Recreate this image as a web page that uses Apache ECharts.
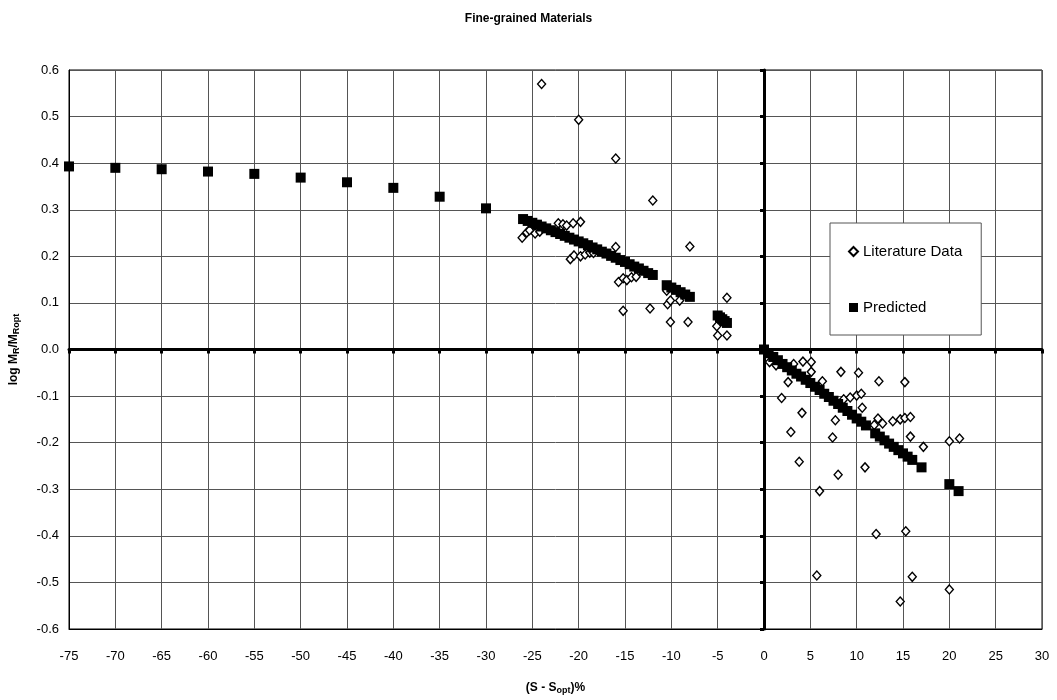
<!DOCTYPE html>
<html>
<head>
<meta charset="utf-8">
<script src="https://cdn.jsdelivr.net/npm/echarts@6/dist/echarts.min.js"></script>
<style>html,body{margin:0;padding:0;background:#fff;}#c{width:1057px;height:700px;}</style>
</head>
<body>
<div id="c"></div>
<script>
var litX = [-24,-20,-16,-12,-8,
  -26.1,-25.6,-25.3,-24.7,-24.2,
  -22.2,-21.7,-21.3,-20.6,-19.8,
  -20.9,-20.5,-19.8,-19.3,-18.8,-18.4,
  -16,
  -15.7,-15.2,-14.8,-14.3,-13.8,
  -15.2,-12.3,
  -10.5,-10.4,-10.1,-9.1,
  -10.1,-8.2,-4.0,-5.1,-5.0,-4.0,
  0.6,1.3,3.2,4.2,5.1,5.1,2.6,1.9,6.3,8.3,10.2,12.4,15.2,
  4.1,2.9,3.8,7.7,7.4,8.0,6.0,10.9,10.6,8.6,9.3,10.0,10.5,
  12.3,11.9,12.8,13.9,14.7,15.2,15.8,15.8,17.2,20.0,21.1,
  12.1,15.3,5.7,16.0,14.7,20.0];
var litY = [0.570,0.493,0.410,0.320,0.221,
  0.240,0.251,0.256,0.249,0.253,
  0.271,0.269,0.266,0.271,0.274,
  0.194,0.202,0.200,0.204,0.208,0.207,
  0.220,
  0.145,0.153,0.149,0.155,0.156,
  0.083,0.088,
  0.126,0.097,0.105,0.105,
  0.059,0.059,0.111,0.050,0.030,0.030,
  -0.027,-0.034,-0.031,-0.026,-0.027,-0.048,-0.070,-0.104,-0.068,-0.048,-0.050,-0.068,-0.070,
  -0.136,-0.177,-0.241,-0.152,-0.189,-0.269,-0.304,-0.253,-0.125,-0.107,-0.103,-0.099,-0.095,
  -0.148,-0.162,-0.159,-0.154,-0.150,-0.147,-0.145,-0.187,-0.209,-0.197,-0.191,
  -0.396,-0.390,-0.485,-0.488,-0.541,-0.515];

var predX = [-75,-70,-65,-60,-55,-50,-45,-40,-35,-30,
  -26,-25.5,-25,-24.5,-24,-23.5,-23,-22.5,-22,-21.5,-21,-20.5,-20,-19.5,-19,-18.5,-18,-17.5,-17,-16.5,-16,-15.5,-15,-14.5,-14,-13.5,-13,-12.5,-12,
  -10.5,-10,-9.5,-9,-8.5,-8,
  -5,-4.75,-4.5,-4.25,-4,
  0,0.5,1,1.5,2,2.5,3,3.5,4,4.5,5,5.5,6,6.5,7,7.5,8,8.5,9,9.5,10,10.5,11,
  12,12.5,13,13.5,14,14.5,15,15.5,16,17,20,21];
var predY = [0.393,0.390,0.387,0.382,0.377,0.369,0.359,0.347,0.328,0.303,
  0.280,0.276,0.272,0.268,0.264,0.260,0.256,0.252,0.248,0.244,0.240,0.236,0.232,0.228,0.224,0.219,0.215,0.210,0.206,0.201,0.197,0.192,0.188,0.183,0.178,0.174,0.169,0.164,0.160,
  0.138,0.133,0.128,0.123,0.118,0.113,
  0.073,0.069,0.065,0.061,0.057,
  0.000,-0.008,-0.016,-0.023,-0.031,-0.038,-0.045,-0.052,-0.058,-0.065,-0.072,-0.080,-0.087,-0.095,-0.102,-0.110,-0.117,-0.125,-0.132,-0.140,-0.148,-0.155,-0.163,
  -0.180,-0.187,-0.195,-0.202,-0.209,-0.216,-0.223,-0.230,-0.237,-0.253,-0.289,-0.304];

var titleText = 'Fine-grained Materials';
var litName = 'Literature Data';
var predName = 'Predicted';

function zip(a, b) { return a.map(function (v, i) { return [v, b[i]]; }); }

var FONT = '"Liberation Sans", Arial, sans-serif';
var chart = echarts.init(document.getElementById('c'), null, {renderer: 'canvas'});
var xCommon = {type: 'value', min: -75, max: 30, interval: 5};
var yCommon = {type: 'value', min: -0.6, max: 0.6, interval: 0.1};
chart.setOption({
  backgroundColor: '#ffffff',
  animation: false,
  title: {
    text: titleText, left: 'center', top: 8,
    textStyle: {fontFamily: FONT, fontSize: 12, fontWeight: 'bold', color: '#000'}
  },
  legend: {
    left: 830, top: 223, orient: 'vertical',
    padding: [21, 19, 20, 18], itemGap: 41,
    itemWidth: 9, itemHeight: 9,
    borderColor: '#555', borderWidth: 1, backgroundColor: '#fff',
    textStyle: {fontFamily: FONT, fontSize: 15, color: '#000'},
    data: [litName, predName]
  },
  grid: {left: 68, right: 15, top: 70, bottom: 69, show: true, borderColor: '#000', borderWidth: 1},
  xAxis: [
    Object.assign({}, xCommon, {
      position: 'bottom',
      name: '{b|(S - S}{s|opt}{b|)%}', nameLocation: 'middle', nameGap: 52,
      nameTextStyle: {rich: {
        b: {fontFamily: FONT, fontSize: 12, fontWeight: 'bold', color: '#000'},
        s: {fontFamily: FONT, fontSize: 9, fontWeight: 'bold', color: '#000', padding: [5, 0, 0, 0]}
      }},
      axisLine: {onZero: false, lineStyle: {color: '#000', width: 1}},
      axisTick: {show: false},
      axisLabel: {margin: 21, fontFamily: FONT, fontSize: 13, color: '#000'},
      splitLine: {show: true, lineStyle: {color: '#555', width: 1}}
    }),
    Object.assign({}, xCommon, {
      axisLine: {onZero: true, onZeroAxisIndex: 0, lineStyle: {color: '#000', width: 3}},
      axisTick: {show: true, inside: true, length: 4, lineStyle: {color: '#000', width: 3}},
      axisLabel: {show: false},
      splitLine: {show: false}
    })
  ],
  yAxis: [
    Object.assign({}, yCommon, {
      position: 'left',
      name: '{b|log M}{s|R}{b|/M}{s|Ropt}', nameLocation: 'middle', nameGap: 48, nameRotate: 90,
      nameTextStyle: {rich: {
        b: {fontFamily: FONT, fontSize: 12, fontWeight: 'bold', color: '#000'},
        s: {fontFamily: FONT, fontSize: 9, fontWeight: 'bold', color: '#000', padding: [5, 0, 0, 0]}
      }},
      axisLine: {onZero: false, lineStyle: {color: '#000', width: 1}},
      axisTick: {show: false},
      axisLabel: {margin: 10, fontFamily: FONT, fontSize: 13, color: '#000',
        formatter: function (v) { return (Math.abs(v) < 1e-9 ? 0 : v).toFixed(1); }},
      splitLine: {show: true, lineStyle: {color: '#555', width: 1}}
    }),
    Object.assign({}, yCommon, {
      axisLine: {onZero: true, onZeroAxisIndex: 0, lineStyle: {color: '#000', width: 3}},
      axisTick: {show: true, inside: true, length: 4, lineStyle: {color: '#000', width: 3}},
      axisLabel: {show: false},
      splitLine: {show: false}
    })
  ],
  series: [
    {
      name: litName, type: 'scatter', xAxisIndex: 0, yAxisIndex: 0,
      symbol: 'diamond', symbolSize: [8, 9], z: 3,
      itemStyle: {color: '#fff', borderColor: '#000', borderWidth: 1.4, opacity: 1},
      data: zip(litX, litY)
    },
    {
      name: predName, type: 'scatter', xAxisIndex: 0, yAxisIndex: 0,
      symbol: 'rect', symbolSize: 10, z: 4,
      itemStyle: {color: '#000', opacity: 1},
      data: zip(predX, predY)
    }
  ]
});
</script>
</body>
</html>
